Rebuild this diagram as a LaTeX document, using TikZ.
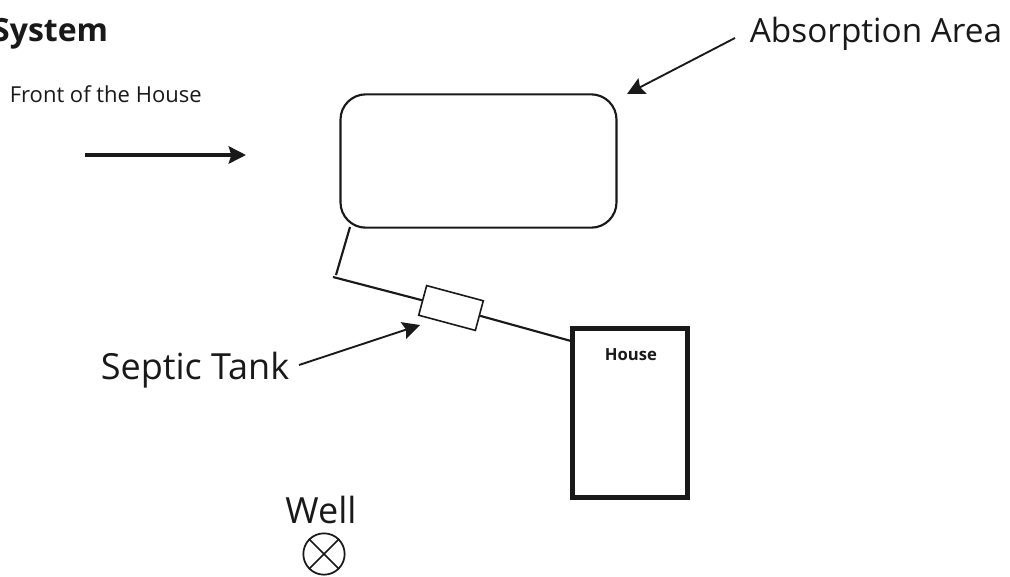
\documentclass[tikz,border=0pt]{standalone}
\usepackage{fontspec}
\setmainfont{Open Sans}
\usetikzlibrary{arrows.meta}

\begin{document}
\begin{tikzpicture}[x=0.75pt,y=-0.75pt,>={Stealth[length=13pt,width=13pt,inset=2pt]},semithick]
\tikzstyle{every node}=[text=black!90]
\tikzstyle{pipe}=[draw=black!90,line width=1.6pt]
\tikzstyle{pointer}=[->,draw=black!90,line width=1.4pt]
\useasboundingbox (0,0) rectangle (1010,576);
\clip (0,0) rectangle (1010,576);
\node[anchor=base east,font=\bfseries\fontsize{24}{28}\selectfont] (title) at (113,41) {System};
\node[anchor=base west,font=\fontsize{16.5}{20}\selectfont] (front) at (5,102) {Front of the House};
\node[anchor=base west,font=\fontsize{25}{30}\selectfont] (absorb) at (745,42) {Absorption Area};
\node[anchor=base west,font=\fontsize{27}{32}\selectfont] (septic) at (96,379) {Septic Tank};
\node[anchor=base,font=\fontsize{27}{32}\selectfont] (welltext) at (321,523) {Well};
\node[draw=black!90,line width=1.6pt,rounded corners=19pt,minimum width=207pt,minimum height=100pt] (area) at (478.5,161) {};
\node[draw=black!90,line width=1.2pt,rotate=-15,minimum width=44pt,minimum height=23pt,inner sep=0pt] (tank) at (451,308) {};
\node[draw=black!90,line width=3.6pt,minimum width=86.5pt,minimum height=127pt,inner sep=0pt] (house) at (630,413) {};
\node[anchor=base,font=\bfseries\fontsize{12.5}{15}\selectfont] (houselabel) at (631,360) {House};
\node[draw=black!90,circle,line width=1.3pt,minimum size=31pt,inner sep=0pt] (well) at (324,554) {};
\coordinate (areaport) at (350,227);
\coordinate (elbow) at (336,275);
\coordinate (corner) at (333,277);
\coordinate (houseport) at (571,341);
\coordinate (frontstart) at (85,155);
\coordinate (frontend) at (246,155);
\coordinate (absorbstart) at (735,38);
\coordinate (absorbend) at (627,94);
\coordinate (septicstart) at (299,365);
\coordinate (septicend) at (420,325);
\draw[pipe] (areaport) -- (elbow);
\draw[pipe] (corner) -- (tank.west);
\draw[pipe] (tank.east) -- (houseport);
\draw[pointer,line width=2.4pt] (frontstart) -- (frontend);
\draw[pointer] (absorbstart) -- (absorbend);
\draw[pointer] (septicstart) -- (septicend);
\draw[black!90,line width=1.3pt] (well.north west) -- (well.south east);
\draw[black!90,line width=1.3pt] (well.north east) -- (well.south west);
\end{tikzpicture}
\end{document}
